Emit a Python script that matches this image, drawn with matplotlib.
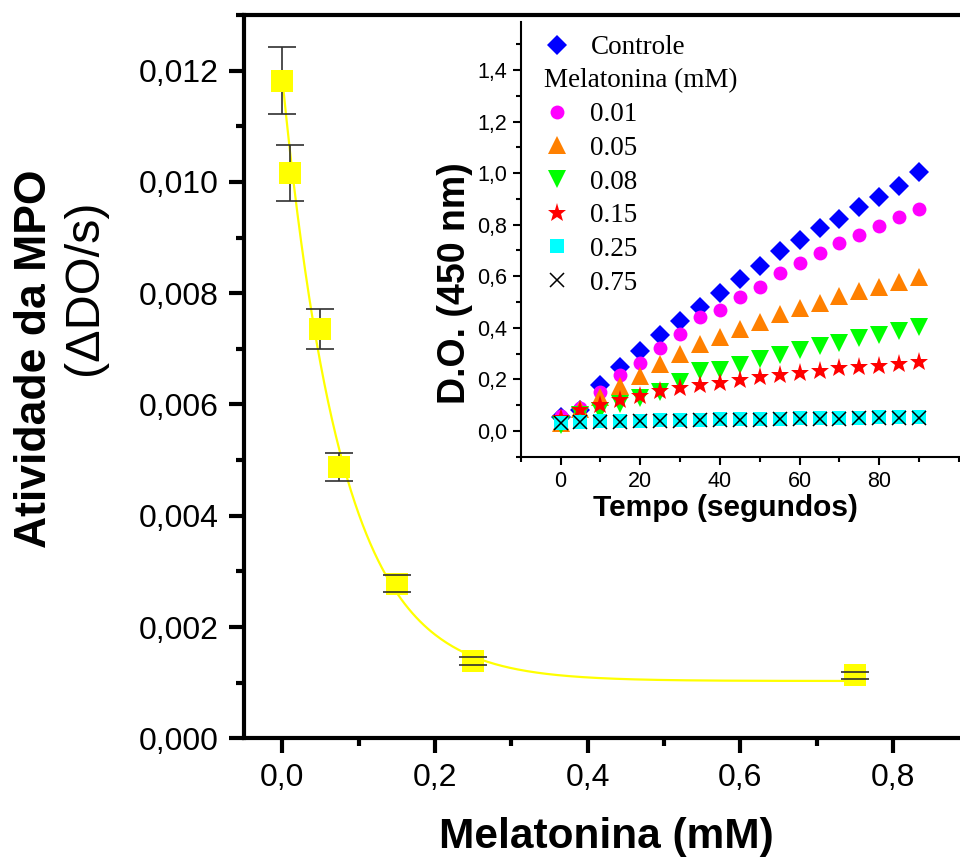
import numpy as np
import matplotlib
matplotlib.use("Agg")
import matplotlib.pyplot as plt
from matplotlib.ticker import FuncFormatter, MultipleLocator

plt.rcParams['font.family'] = ['Liberation Sans', 'DejaVu Sans']

# main plot: MPO activity vs melatonin
mel_conc = [0.0, 0.01, 0.05, 0.075, 0.15, 0.25, 0.75]
mpo_act = [0.01182, 0.01016, 0.00735, 0.00488, 0.00278, 0.00139, 0.00113]
mpo_err = [0.0006, 0.00051, 0.00036, 0.00025, 0.00015, 0.000075, 0.00006]

# exponential decay fit parameters (y0 + A*exp(-x/t))
fit_y0, fit_A, fit_t = 0.00103, 0.01085, 0.078

# inset: D.O. (450 nm) vs time
tempo = [0, 5, 10, 15, 20, 25, 30, 35, 40, 45, 50, 55, 60, 65, 70, 75, 80, 85, 90]
do_controle = [0.055, 0.080, 0.178, 0.247, 0.310, 0.372, 0.426, 0.482, 0.534, 0.588,
               0.641, 0.698, 0.740, 0.786, 0.824, 0.867, 0.908, 0.951, 1.003]
do_001 = [0.060, 0.088, 0.152, 0.217, 0.262, 0.320, 0.375, 0.443, 0.471, 0.520,
          0.559, 0.611, 0.650, 0.689, 0.730, 0.762, 0.796, 0.831, 0.859]
do_005 = [0.030, 0.085, 0.133, 0.174, 0.213, 0.258, 0.300, 0.336, 0.363, 0.394,
          0.424, 0.452, 0.476, 0.497, 0.524, 0.544, 0.559, 0.576, 0.596]
do_008 = [0.023, 0.062, 0.079, 0.105, 0.127, 0.152, 0.191, 0.233, 0.236, 0.256,
          0.278, 0.295, 0.314, 0.330, 0.340, 0.359, 0.372, 0.388, 0.404]
do_015 = [0.049, 0.081, 0.101, 0.120, 0.137, 0.155, 0.165, 0.178, 0.187, 0.198,
          0.208, 0.217, 0.226, 0.234, 0.243, 0.249, 0.253, 0.260, 0.266]
do_025 = [0.030, 0.036, 0.037, 0.038, 0.040, 0.042, 0.043, 0.044, 0.045, 0.046,
          0.047, 0.048, 0.049, 0.050, 0.051, 0.052, 0.053, 0.054, 0.055]
do_075 = [0.030, 0.035, 0.035, 0.034, 0.037, 0.039, 0.040, 0.041, 0.042, 0.043,
          0.044, 0.045, 0.046, 0.047, 0.048, 0.049, 0.050, 0.050, 0.050]
conc_labels = ['0.01', '0.05', '0.08', '0.15', '0.25', '0.75']

fig = plt.figure(figsize=(9.6, 8.59), dpi=100)
ax = fig.add_axes([0.2542, 0.1405, 0.7555, 0.842])

xfit = np.linspace(mel_conc[0], mel_conc[-1], 300)
ax.plot(xfit, fit_y0 + fit_A * np.exp(-xfit / fit_t), color='#FFFF00', lw=1.6, zorder=2)
ax.plot(mel_conc, mpo_act, 's', color='#FFFF00', ms=16.5, mew=0, zorder=3)
_, caps, bars = ax.errorbar(mel_conc, mpo_act, yerr=mpo_err, fmt='none', ecolor='#303030',
                            elinewidth=1.2, capsize=10, capthick=1.2)
for c in caps:
    c.set_zorder(4)
    c.set_color('#606060')
for b in bars:
    b.set_zorder(2.5)

ax.set_xlim(-0.05, 0.9)
ax.set_ylim(0, 0.013)
ax.set_xticks([0.0, 0.2, 0.4, 0.6, 0.8])
ax.set_yticks(np.arange(0, 0.0121, 0.002))
ax.xaxis.set_minor_locator(MultipleLocator(0.1))
ax.yaxis.set_minor_locator(MultipleLocator(0.001))
ax.xaxis.set_major_formatter(FuncFormatter(lambda v, p: f"{v:.1f}".replace('.', ',')))
ax.yaxis.set_major_formatter(FuncFormatter(lambda v, p: f"{v:.3f}".replace('.', ',')))
ax.tick_params(which='major', direction='out', length=11, width=3, labelsize=23, pad=7)
ax.tick_params(which='minor', direction='out', length=6, width=3)
for s in ['left', 'bottom', 'top']:
    ax.spines[s].set_linewidth(3)
ax.spines['right'].set_visible(False)
ax.set_xlabel('Melatonina (mM)', fontsize=30.5, fontweight='bold', labelpad=17)

fig.text(35 / 960, 1 - 359 / 859, 'Atividade da MPO', rotation=90, fontsize=32,
         fontweight='bold', ha='center', va='center')
fig.text(85 / 960, 1 - 287 / 859, '(ΔDO/s)', rotation=90, fontsize=35,
         ha='center', va='center')

# inset
ins = fig.add_axes([0.5424, 0.4676, 0.4566, 0.5068])
l0, = ins.plot(tempo, do_controle, 'D', color='#0000FF', ms=10, mew=0)
h1, = ins.plot(tempo, do_001, 'o', color='#FF00FF', ms=10, mew=0)
h2, = ins.plot(tempo, do_005, '^', color='#FF8000', ms=13.5, mew=0)
h3, = ins.plot(tempo, do_008, 'v', color='#00FF00', ms=13.5, mew=0)
h4, = ins.plot(tempo, do_015, '*', color='#FF0000', ms=14, mew=0)
h5, = ins.plot(tempo, do_025, 's', color='#00FFFF', ms=9.5, mew=0)
h6, = ins.plot(tempo, do_075, 'x', color='black', ms=10, mew=1.1)

ins.set_xlim(-10, 100)
ins.set_ylim(-0.102, 1.586)
ins.set_xticks([0, 20, 40, 60, 80])
ins.set_yticks(np.arange(0, 1.41, 0.2))
ins.xaxis.set_minor_locator(MultipleLocator(10))
ins.yaxis.set_minor_locator(MultipleLocator(0.1))
ins.yaxis.set_major_formatter(FuncFormatter(lambda v, p: f"{v:.1f}".replace('.', ',')))
ins.tick_params(which='major', direction='out', length=6, width=1.5, labelsize=15.5, pad=4)
ins.tick_params(which='minor', direction='out', length=3.5, width=1.5)
ins.spines['left'].set_linewidth(1.5)
ins.spines['bottom'].set_linewidth(1.5)
ins.spines['right'].set_visible(False)
ins.spines['top'].set_visible(False)
ins.patch.set_alpha(0)
ins.set_xlabel('Tempo (segundos)', fontsize=21.5, fontweight='bold', labelpad=2)
ins.xaxis.set_label_coords(0.466, -0.085)
ins.set_ylabel('D.O. (450 nm)', fontsize=27, fontweight='bold')
ins.yaxis.set_label_coords(-0.108, 0.40)

leg_font = {'family': 'Liberation Serif', 'size': 19.5}
leg1 = ins.legend([l0], ['Controle'], loc='center left', prop=leg_font, frameon=False,
                  bbox_to_anchor=((533 - 520.7) / 438.3, (457.3 - 48) / 435.3),
                  borderaxespad=0, handlelength=1.0, handletextpad=0.72)
ins.add_artist(leg1)
leg2 = ins.legend([h1, h2, h3, h4, h5, h6], conc_labels, loc='center left', prop=leg_font,
                  frameon=False, title='Melatonina (mM)', title_fontproperties=leg_font,
                  alignment='left', labelspacing=0.32,
                  bbox_to_anchor=((533 - 520.7) / 438.3, (457.3 - 182) / 435.3),
                  borderaxespad=0, handlelength=1.0, handletextpad=0.72)

fig.savefig('out.png', dpi=100)
